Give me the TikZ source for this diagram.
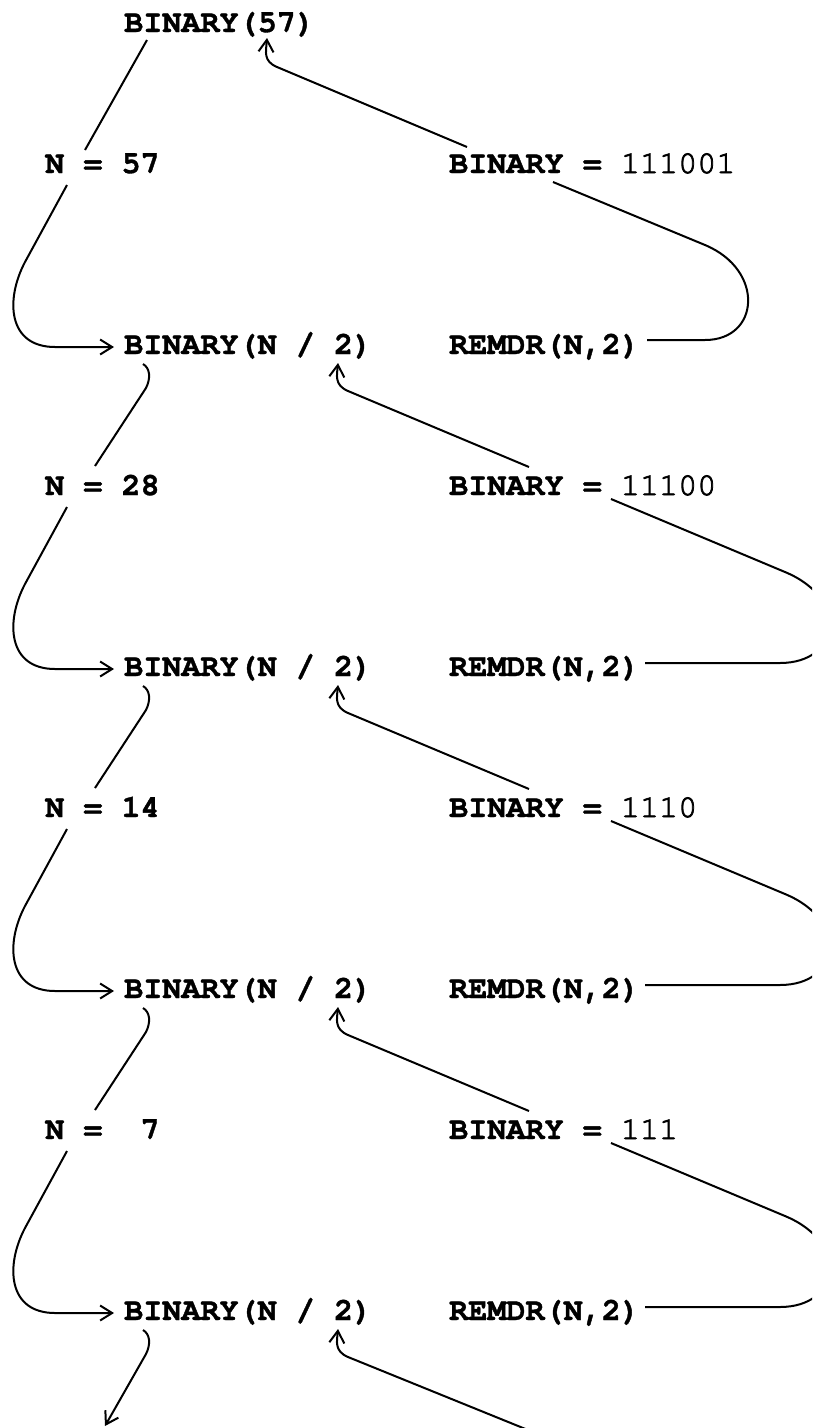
\documentclass[tikz,border=0pt]{standalone}
\usepackage{fontspec}
\newfontfamily\codefont{texgyrecursor}[Extension=.otf,
	UprightFont=*-bold, UprightFeatures={FakeBold=1.2}]
\newfontfamily\valfont{texgyrecursor}[Extension=.otf,
	UprightFont=*-regular, UprightFeatures={FakeBold=2.4}]
\usetikzlibrary{arrows.meta}
\tikzset{
	txt/.style = {font=\codefont\fontsize{31.8}{36}\selectfont,
		inner sep=0pt, anchor=base west},
	ln/.style  = {line width=2pt, line join=round},
	ar/.style  = {ln, -{Straight Barb[length=12pt, width=15pt]}},
}
\begin{document}
\begin{tikzpicture}[x=1pt, y=1pt]
		
		%%═══════════════════════════════════════════════════════════════════
		%% PAGE  (812 x 1428, y downwards as negative)
		%%═══════════════════════════════════════════════════════════════════
		\useasboundingbox (0,0) rectangle (812,-1428);
		\clip (0,0) rectangle (812,-1428);
		
		%%═══════════════════════════════════════════════════════════════════
		%% CALL LINES   B_k baseline 32+322k,  N_k baseline 173+322k
		%%═══════════════════════════════════════════════════════════════════
		\node[txt] (b0) at (124,  -32) {BINARY(57)};
		
		\node[txt] (n0) at (45,  -173) {N = 57};
		\node[txt] (r0) at (449, -173) {BINARY = {\valfont 111001}};
		\node[txt] (b1) at (124, -354) {BINARY(N / 2)};
		\node[txt] (m1) at (449, -354) {REMDR(N,2)};
		
		\node[txt] (n1) at (45,  -495) {N = 28};
		\node[txt] (r1) at (449, -495) {BINARY = {\valfont 11100}};
		\node[txt] (b2) at (124, -676) {BINARY(N / 2)};
		\node[txt] (m2) at (449, -676) {REMDR(N,2)};
		
		\node[txt] (n2) at (45,  -817) {N = 14};
		\node[txt] (r2) at (449, -817) {BINARY = {\valfont 1110}};
		\node[txt] (b3) at (124, -998) {BINARY(N / 2)};
		\node[txt] (m3) at (449, -998) {REMDR(N,2)};
		
		\node[txt] (n3) at (45, -1139) {N = \phantom{0}7};
		\node[txt] (r3) at (449,-1139) {BINARY = {\valfont 111}};
		\node[txt] (b4) at (124,-1320) {BINARY(N / 2)};
		\node[txt] (m4) at (449,-1320) {REMDR(N,2)};
		
		%% free ends at the lower page edge
		\coordinate (down)   at (105, -1426);
		\coordinate (return) at (528, -1430);
		
		%%═══════════════════════════════════════════════════════════════════
		%% DESCENT  (call -> N -> next call)
		%%═══════════════════════════════════════════════════════════════════
		\draw[ln] ([shift={(23,-8)}]b0.base west) -- ([shift={(40,23)}]n0.base west);
		
		%% N_k -> B_{k+1}, loop on the left
		\draw[ar] ([shift={(22,-12)}]n0.base west) -- (25,-262)
		.. controls (5,-300) and (8,-347) .. (55,-347) -- ([shift={(-10,7)}]b1.base west);
		\draw[ar] ([shift={(22,-12)}]n1.base west) -- (25,-584)
		.. controls (5,-622) and (8,-669) .. (55,-669) -- ([shift={(-10,7)}]b2.base west);
		\draw[ar] ([shift={(22,-12)}]n2.base west) -- (25,-906)
		.. controls (5,-944) and (8,-991) .. (55,-991) -- ([shift={(-10,7)}]b3.base west);
		\draw[ar] ([shift={(22,-12)}]n3.base west) -- (25,-1228)
		.. controls (5,-1266) and (8,-1313) .. (55,-1313) -- ([shift={(-10,7)}]b4.base west);
		
		%% B_k -> N_k, small hook at the top
		\draw[ln] ([shift={(19,-10)}]b1.base west)
		.. controls (150,-368) and (151,-378) .. (146,-388) -- ([shift={(50,29)}]n1.base west);
		\draw[ln] ([shift={(19,-10)}]b2.base west)
		.. controls (150,-690) and (151,-700) .. (146,-710) -- ([shift={(50,29)}]n2.base west);
		\draw[ln] ([shift={(19,-10)}]b3.base west)
		.. controls (150,-1012) and (151,-1022) .. (146,-1032) -- ([shift={(50,29)}]n3.base west);
		\draw[ar] ([shift={(19,-10)}]b4.base west)
		.. controls (150,-1334) and (151,-1344) .. (146,-1354) -- (down);
		
		%%═══════════════════════════════════════════════════════════════════
		%% REMAINDER  (REMDR -> BINARY = ..., loop on the right)
		%%═══════════════════════════════════════════════════════════════════
		\draw[ln] ([shift={(104,-9)}]r0.base west) -- (705,-245)
		.. controls (765,-270) and (760,-340) .. (705,-340) -- ([shift={(198,14)}]m1.base west);
		\draw[ln] ([shift={(162,-4)}]r1.base west) -- (785,-572)
		.. controls (850,-599) and (840,-663) .. (780,-663) -- ([shift={(196,13)}]m2.base west);
		\draw[ln] ([shift={(162,-4)}]r2.base west) -- (785,-894)
		.. controls (850,-921) and (840,-985) .. (780,-985) -- ([shift={(196,13)}]m3.base west);
		\draw[ln] ([shift={(162,-4)}]r3.base west) -- (785,-1216)
		.. controls (850,-1243) and (840,-1307) .. (780,-1307) -- ([shift={(196,13)}]m4.base west);
		
		%%═══════════════════════════════════════════════════════════════════
		%% RETURN  (BINARY = ... -> the call that asked for it)
		%%═══════════════════════════════════════════════════════════════════
		\draw[ar] ([shift={(18,26)}]r0.base west) -- (277,-67)
		.. controls (263,-61) and (266,-52) .. ([shift={(143,-6)}]b0.base west);
		\draw[ar] ([shift={(80,28)}]r1.base west) -- (348,-391)
		.. controls (334,-385) and (337,-375) .. ([shift={(214,-9)}]b1.base west);
		\draw[ar] ([shift={(80,28)}]r2.base west) -- (348,-713)
		.. controls (334,-707) and (337,-697) .. ([shift={(214,-9)}]b2.base west);
		\draw[ar] ([shift={(80,28)}]r3.base west) -- (348,-1035)
		.. controls (334,-1029) and (337,-1019) .. ([shift={(214,-9)}]b3.base west);
		\draw[ar] (return) -- (348,-1357)
		.. controls (334,-1351) and (337,-1341) .. ([shift={(214,-9)}]b4.base west);
		
	\end{tikzpicture}
\end{document}
